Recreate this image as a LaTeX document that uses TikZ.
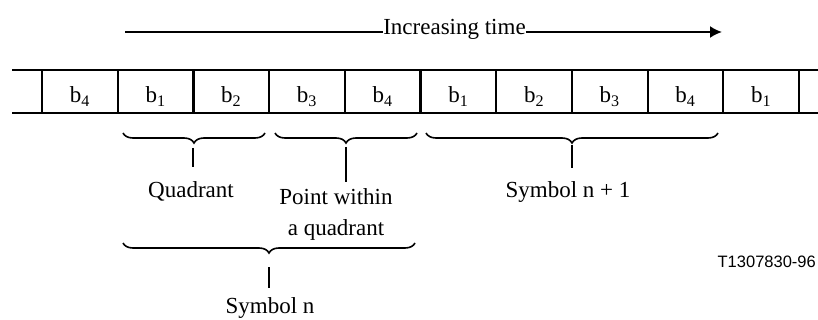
\documentclass[tikz,border=0pt]{standalone}
\usepackage{fontspec}
\setmainfont{Liberation Serif}
\newfontfamily\labelsans{Liberation Sans}
\usetikzlibrary{decorations.pathreplacing,arrows.meta}
\begin{document}
\begin{tikzpicture}[x=1pt,y=-1pt,
  every node/.style={inner sep=0pt, font=\fontsize{23}{30}\selectfont},
  strip/.style={line width=2.2pt},
  brc/.style={decorate, decoration={brace, amplitude=10pt}, line width=1.6pt},
  stem/.style={line width=2pt},
  lbl/.style={anchor=base},
  timeline/.style={line width=2pt}
]
\clip (0,0) rectangle (818,320);
% strip
\draw[strip] (12,70) -- (818,70);
\draw[strip] (12,113) -- (818,113);
\foreach \k in {0,...,10}{
  \draw[strip] ({42+75.7*\k},70) -- ({42+75.7*\k},113);
}
\foreach \lab [count=\k from 0] in {4,1,2,3,4,1,2,3,4,1}{
  \node[lbl] (cell\k) at ({42+75.7*\k+37.85},103) {b\textsubscript{\lab}};
}
% time arrow
\coordinate (tL) at (125,32);
\coordinate (tR) at (722,32);
\node[lbl] (time) at (454.5,35) {Increasing time};
\draw[timeline] (tL) -- (time.west |- tL);
\draw[timeline,-{Latex[length=12pt,width=12pt]}] (time.east |- tR) -- (tR);
% braces
\draw[brc] (265,133) -- (123,133);
\draw[brc] (417,133) -- (275,133);
\draw[brc] (718,133) -- (426,133);
\draw[brc] (415,243) -- (123,243);
% stems
\coordinate (s1a) at (193,148); \coordinate (s1b) at (193,167);
\coordinate (s2a) at (346,147); \coordinate (s2b) at (346,182);
\coordinate (s3a) at (572,145); \coordinate (s3b) at (572,168);
\coordinate (s4a) at (269,267); \coordinate (s4b) at (269,288);
\draw[stem] (s1a) -- (s1b);
\draw[stem] (s2a) -- (s2b);
\draw[stem] (s3a) -- (s3b);
\draw[stem] (s4a) -- (s4b);
% labels
\node[lbl] (quad) at (191,198) {Quadrant};
\node[lbl] (pw1) at (336,205) {Point within};
\node[lbl] (pw2) at (336,235) {a quadrant};
\node[lbl] (symn1) at (568,198) {Symbol n + 1};
\node[lbl] (symn) at (270,313) {Symbol n};
\node[anchor=base east, font=\labelsans\fontsize{16.5}{20}\selectfont] (fig) at (816,267) {T1307830-96};
\end{tikzpicture}
\end{document}
